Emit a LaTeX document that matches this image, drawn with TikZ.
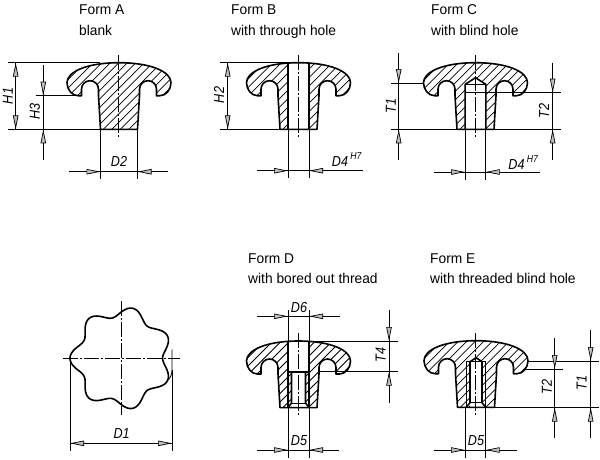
\documentclass[tikz,border=0pt]{standalone}
\usepackage{fontspec}
\setmainfont[FakeStretch=0.97]{Liberation Sans}
\newfontfamily\dimfont[FakeStretch=0.87,ItalicFont={Liberation Sans Italic}]{Liberation Sans}
\usetikzlibrary{arrows.meta}
\tikzset{
  outl/.style={line width=1.6pt,line join=round},
  thinl/.style={line width=0.85pt},
  medl/.style={line width=1.05pt},
  hatchl/.style={line width=0.75pt},
  cline/.style={line width=0.7pt,dash pattern=on 15pt off 2pt on 2pt off 2pt},
  tipa/.style={line width=0.7pt,-{Triangle[length=14pt,width=5.4pt,fill=gray!50]}},
  lab/.style={font=\dimfont\itshape\fontsize{14.5}{14.5}\selectfont,inner sep=0pt},
  supl/.style={font=\dimfont\itshape\fontsize{10}{10}\selectfont,inner sep=0pt},
  ttl/.style={font=\fontsize{14.2}{14.2}\selectfont,inner sep=0pt,anchor=base west}
}
\newcommand\knobpath{(-18.5,66.6) -- (-20.5,33) -- (-20.5,26.5) .. controls (-20.5,21.8) and (-24.3,18) .. (-29,18) .. controls (-33.7,18) and (-37.5,21.8) .. (-37.5,26.5) -- (-37.5,33) -- (-41,33) .. controls (-47,33) and (-52,27) .. (-52,20) .. controls (-52,9) and (-32,0) .. (0,0) .. controls (32,0) and (52,9) .. (52,20) .. controls (52,27) and (47,33) .. (41,33) -- (37.5,33) -- (37.5,26.5) .. controls (37.5,21.8) and (33.7,18) .. (29,18) .. controls (24.3,18) and (20.5,21.8) .. (20.5,26.5) -- (20.5,33) -- (18.5,66.6) -- cycle}
\newcommand\hatchknob{\begin{scope}\clip \knobpath;
  \foreach \k in {-140,-131.5,...,70} {\draw[hatchl] (\k,72) -- (\k+80,-8);}
\end{scope}}
\newcommand\tipto[2]{\draw[tipa] #1 -- #2;}
\begin{document}
\begin{tikzpicture}[x=1pt,y=-1pt]
\useasboundingbox (0,0) rectangle (600,459);
% titles
\node[ttl] (ta1) at (79,14) {Form A};
\node[ttl] (ta2) at (79,35) {blank};
\node[ttl] (tb1) at (231,14) {Form B};
\node[ttl] (tb2) at (231,35) {with through hole};
\node[ttl] (tc1) at (431,14) {Form C};
\node[ttl] (tc2) at (431,35) {with blind hole};
\node[ttl] (td1) at (248,263) {Form D};
\node[ttl] (td2) at (248,283) {with bored out thread};
\node[ttl] (te1) at (430,263) {Form E};
\node[ttl] (te2) at (430,283) {with threaded blind hole};
% Form A
\begin{scope}[shift={(119,62.7)}]
\hatchknob
\draw[outl] \knobpath;
\end{scope}
\draw[cline] (118.7,55) -- (118.7,137);
\draw[thinl] (8.3,62.7) -- (100,62.7);
\draw[thinl] (8.3,129.3) -- (100.5,129.3);
\draw[thinl] (35.7,95.7) -- (78,95.7);
\draw[thinl] (15.7,62.7) -- (15.7,129.3);
\tipto{(15.7,76.7)}{(15.7,62.7)}
\tipto{(15.7,115.3)}{(15.7,129.3)}
\draw[thinl] (43.3,65) -- (43.3,160);
\tipto{(43.3,81.7)}{(43.3,95.7)}
\tipto{(43.3,143.3)}{(43.3,129.3)}
\draw[thinl] (100.5,129.3) -- (100.5,179);
\draw[thinl] (137.5,129.3) -- (137.5,179);
\draw[thinl] (69.3,171.7) -- (167.7,171.7);
\tipto{(86.5,171.7)}{(100.5,171.7)}
\tipto{(151.5,171.7)}{(137.5,171.7)}
\node[lab,rotate=90] (h1) at (8,96) {H1};
\node[lab,rotate=90] (h3) at (35,111.7) {H3};
\node[lab] (d2) at (119,161.7) {D2};
% Form B
\begin{scope}[shift={(298.5,62.7)}]
\hatchknob
\fill[white] (-10.5,0) rectangle (10.5,66.6);
\draw[outl] \knobpath;
\draw[outl] (-10.5,0) -- (-10.5,66.6) (10.5,0) -- (10.5,66.6);
\end{scope}
\draw[cline] (298.3,55) -- (298.3,137);
\draw[thinl] (220,62.7) -- (290,62.7);
\draw[thinl] (220,129.3) -- (280,129.3);
\draw[thinl] (227.7,62.7) -- (227.7,129.3);
\tipto{(227.7,76.7)}{(227.7,62.7)}
\tipto{(227.7,115.3)}{(227.7,129.3)}
\draw[thinl] (288,129.3) -- (288,178);
\draw[thinl] (309,129.3) -- (309,178);
\draw[thinl] (256.7,170.7) -- (363.3,170.7);
\tipto{(274,170.7)}{(288,170.7)}
\tipto{(323,170.7)}{(309,170.7)}
\node[lab,rotate=90] (h2) at (219,95) {H2};
\node[lab] (d4b) at (340,162) {D4};
\node[supl] (h7b) at (356,156) {H7};
% Form C
\begin{scope}[shift={(475.5,62.7)}]
\hatchknob
\fill[white] (-10.4,66.6) -- (-10.4,21.7) -- (0,15) -- (10.4,21.7) -- (10.4,66.6) -- cycle;
\draw[outl] \knobpath;
\draw[outl] (-10.4,66.6) -- (-10.4,21.7) -- (0,15) -- (10.4,21.7) -- (10.4,66.6);
\draw[thinl] (-10.4,21.7) -- (10.4,21.7);
\end{scope}
\draw[cline] (475.3,55) -- (475.3,137);
\draw[thinl] (391,83) -- (424,83);
\draw[thinl] (391,129.3) -- (457,129.3);
\draw[thinl] (398.7,52.7) -- (398.7,160);
\tipto{(398.7,69)}{(398.7,83)}
\tipto{(398.7,143.3)}{(398.7,129.3)}
\draw[thinl] (465,92.7) -- (560.7,92.7);
\draw[thinl] (494,129.3) -- (560.7,129.3);
\draw[thinl] (552.7,62.7) -- (552.7,160);
\tipto{(552.7,78.7)}{(552.7,92.7)}
\tipto{(552.7,143.3)}{(552.7,129.3)}
\draw[thinl] (465,129.3) -- (465,180);
\draw[thinl] (485.7,129.3) -- (485.7,180);
\draw[thinl] (434,172) -- (540,172);
\tipto{(451,172)}{(465,172)}
\tipto{(499.7,172)}{(485.7,172)}
\node[lab,rotate=90] (t1c) at (391,106) {T1};
\node[lab,rotate=90] (t2c) at (544,111) {T2};
\node[lab] (d4c) at (516.5,164.5) {D4};
\node[supl] (h7c) at (532.5,159) {H7};
% Star
\draw[outl] plot[domain=0:360,samples=210,smooth] ({121.3+(46.3+5*cos(7*(\x-180)))*cos(\x)},{358.3+(46.3+5*cos(7*(\x-180)))*sin(\x)}) -- cycle;
\draw[cline] (63.3,358.3) -- (180,358.3);
\draw[cline] (121.3,301) -- (121.3,415);
\draw[thinl] (70,358.3) -- (70,451);
\draw[thinl] (172,349.3) -- (172,370) .. controls (172,375) and (170,378) .. (168.3,379.5);
\draw[thinl] (172,370) -- (172,451);
\draw[thinl] (70,443.3) -- (172,443.3);
\tipto{(84,443.3)}{(70,443.3)}
\tipto{(158,443.3)}{(172,443.3)}
\node[lab] (d1) at (121.7,434) {D1};
% Form D
\begin{scope}[shift={(298.5,341)}]
\hatchknob
\fill[white] (-10.5,0) rectangle (10.5,30.7);
\fill[white] (-7,30.7) rectangle (7,66.6);
\draw[outl] \knobpath;
\draw[outl] (-10.5,0) -- (-10.5,30.7) -- (10.5,30.7) -- (10.5,0);
\draw[outl] (-7,30.7) -- (-7,62) -- (-10.5,66.6) (7,30.7) -- (7,62) -- (10.5,66.6);
\draw[thinl] (-7,62) -- (7,62);
\draw[medl] (-10.5,30.7) -- (-10.5,66.6) (10.5,30.7) -- (10.5,66.6);
\end{scope}
\draw[cline] (298.3,333.3) -- (298.3,415);
\draw[thinl] (288,310) -- (288,341);
\draw[thinl] (309,310) -- (309,341);
\draw[thinl] (256.7,316.3) -- (340,316.3);
\tipto{(274,316.3)}{(288,316.3)}
\tipto{(323,316.3)}{(309,316.3)}
\node[lab] (d6) at (299,307.3) {D6};
\draw[thinl] (309,341) -- (397.7,341);
\draw[thinl] (320,371.7) -- (397.7,371.7);
\draw[thinl] (389,310) -- (389,402.7);
\tipto{(389,327)}{(389,341)}
\tipto{(389,385.7)}{(389,371.7)}
\node[lab,rotate=90] (t4) at (380.7,355) {T4};
\draw[thinl] (288,407.7) -- (288,458);
\draw[thinl] (309,407.7) -- (309,458);
\draw[thinl] (256.7,450) -- (339,450);
\tipto{(274,450)}{(288,450)}
\tipto{(323,450)}{(309,450)}
\node[lab] (d5d) at (299,440.7) {D5};
% Form E
\begin{scope}[shift={(476,340.7)}]
\hatchknob
\fill[white] (-6,67) -- (-6,21) -- (0,17) -- (6,21) -- (6,67) -- cycle;
\draw[outl] \knobpath;
\draw[outl] (-6,62) -- (-6,21) -- (0,17) -- (6,21) -- (6,62) -- (9.8,66.6) (-6,62) -- (-9.8,66.6);
\draw[medl] (-9.8,21) -- (-9.8,66.6) (9.8,21) -- (9.8,66.6) (-9.8,21) -- (9.8,21);
\draw[thinl] (-6,62) -- (6,62);
\end{scope}
\draw[cline] (475.7,333) -- (475.7,415);
\draw[thinl] (528,361) -- (599,361);
\draw[thinl] (525,369) -- (562.7,369);
\draw[thinl] (494,407.7) -- (599,407.7);
\draw[thinl] (554.7,338.3) -- (554.7,438.3);
\draw[thinl] (590.7,330) -- (590.7,438.3);
\tipto{(554.7,355)}{(554.7,369)}
\tipto{(554.7,421.7)}{(554.7,407.7)}
\tipto{(590.7,347)}{(590.7,361)}
\tipto{(590.7,421.7)}{(590.7,407.7)}
\node[lab,rotate=90] (t2e) at (546.7,387) {T2};
\node[lab,rotate=90] (t1e) at (581.7,383) {T1};
\draw[thinl] (465,407.7) -- (465,458);
\draw[thinl] (485.7,407.7) -- (485.7,458);
\draw[thinl] (434.3,450) -- (517.3,450);
\tipto{(451,450)}{(465,450)}
\tipto{(499.7,450)}{(485.7,450)}
\node[lab] (d5e) at (476,440.7) {D5};
\end{tikzpicture}
\end{document}
